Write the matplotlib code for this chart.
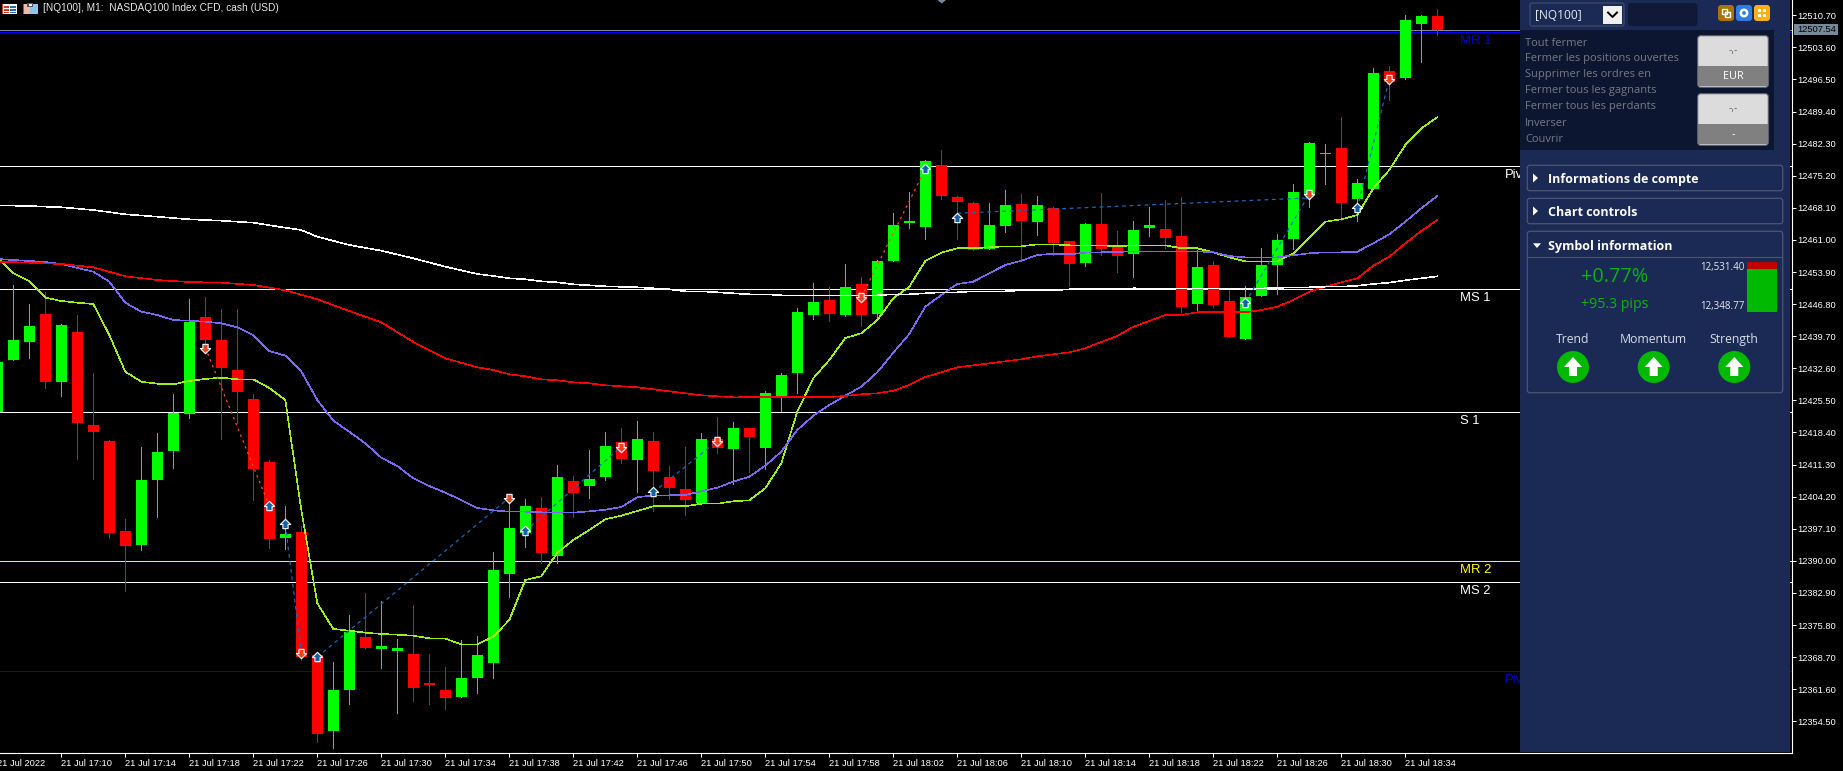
import numpy as np
import matplotlib
matplotlib.use("Agg")
import matplotlib.pyplot as plt
from matplotlib.patches import Rectangle, FancyBboxPatch, Circle, Polygon
from matplotlib.path import Path

plt.rcParams['font.family'] = ['Liberation Sans', 'DejaVu Sans']

# ---------- data ----------
opens = [12422.9,12434.43,12438.48,12444.61,12429.63,12440.69,12420.05,12416.51,12396.60,12393.57,12407.95,12414.37,12422.55,12443.95,12438.86,12432.22,12425.81,12411.87,12395.12,12396.38,12369.17,12352.35,12361.42,12373.15,12370.50,12370.05,12369.39,12362.98,12361.42,12359.88,12364.08,12367.40,12387.16,12396.23,12401.69,12391.14,12407.66,12406.56,12408.55,12416.29,12412.31,12416.51,12408.55,12405.89,12402.80,12416.96,12414.75,12419.39,12414.97,12426.25,12431.56,12444.39,12447.71,12444.39,12451.25,12444.61,12456.34,12464.74,12463.86,12477.58,12470.50,12469.17,12458.99,12464.08,12468.95,12464.97,12468.06,12460.76,12455.89,12464.52,12459.66,12457.88,12463.64,12463.42,12461.87,12446.82,12455.45,12447.49,12439.08,12448.59,12455.45,12461.20,12470.94,12480.01,12481.34,12470.05,12472.26,12498.37,12496.82,12508.77,12510.54]
highs = [12434.0,12451.03,12446.82,12449.48,12442.40,12444.39,12431.56,12416.73,12399.26,12415.12,12418.22,12426.91,12447.93,12448.31,12445.72,12445.72,12426.91,12412.31,12402.13,12397.78,12369.17,12367.62,12378.02,12382.89,12381.12,12372.71,12380.23,12369.39,12366.51,12372.49,12373.37,12391.96,12403.90,12403.68,12404.12,12411.20,12408.77,12414.52,12418.50,12419.39,12420.94,12418.50,12410.98,12415.19,12418.28,12421.82,12420.72,12419.39,12427.57,12431.56,12445.94,12451.47,12450.58,12455.67,12452.80,12456.56,12466.96,12471.60,12478.68,12480.89,12470.72,12469.39,12469.17,12472.04,12471.16,12470.72,12468.28,12460.76,12464.74,12471.38,12462.97,12465.19,12468.28,12469.83,12470.50,12458.77,12456.34,12449.92,12450.81,12459.21,12462.31,12473.37,12482.66,12482.22,12488.20,12474.48,12499.04,12499.48,12510.76,12510.76,12512.09]
lows = [12422.9,12434.43,12434.94,12428.31,12426.54,12412.53,12408.04,12395.12,12383.39,12392.40,12399.77,12410.61,12421.67,12437.53,12416.96,12420.43,12403.46,12392.91,12392.62,12368.06,12349.92,12348.66,12358.33,12370.72,12366.29,12356.34,12358.99,12358.33,12357.22,12359.88,12360.76,12364.08,12381.96,12393.13,12389.59,12389.59,12399.77,12403.97,12407.95,12411.65,12405.23,12401.09,12403.68,12400.14,12402.80,12413.86,12407.00,12409.66,12410.32,12423.15,12427.13,12443.51,12443.06,12444.17,12441.96,12443.95,12456.34,12463.64,12461.20,12470.05,12461.20,12458.77,12458.99,12462.75,12456.56,12462.09,12457.66,12450.81,12455.23,12457.66,12453.90,12452.80,12461.87,12459.21,12445.05,12445.50,12446.16,12439.52,12439.08,12448.59,12449.04,12458.99,12468.28,12473.37,12465.41,12465.19,12472.26,12491.96,12496.60,12500.36,12506.34]
closes = [12434.0,12438.86,12441.96,12429.63,12442.18,12420.43,12418.57,12396.23,12393.35,12407.88,12414.08,12422.71,12442.91,12438.93,12432.73,12427.42,12410.32,12394.83,12396.01,12368.72,12351.76,12361.42,12374.32,12370.72,12371.16,12370.72,12361.87,12362.53,12359.66,12364.08,12369.17,12387.97,12397.27,12402.13,12391.73,12408.55,12405.01,12408.11,12415.41,12412.53,12416.96,12409.88,12406.12,12403.46,12416.96,12414.97,12419.39,12417.40,12427.13,12431.12,12445.05,12447.27,12444.61,12450.58,12444.39,12456.34,12464.30,12465.19,12478.46,12470.72,12469.39,12458.77,12464.30,12468.73,12465.19,12468.73,12460.32,12455.67,12464.52,12458.99,12457.44,12463.19,12464.30,12461.43,12446.16,12455.01,12446.60,12439.52,12448.37,12455.45,12460.98,12471.60,12482.44,12480.23,12469.17,12473.59,12497.93,12495.94,12509.66,12510.54,12507.54]

ma_fast = [12457.29,12453.62,12451.91,12448.22,12447.49,12447.11,12446.82,12439.96,12431.84,12429.63,12429.19,12429.06,12429.79,12430.23,12430.52,12430.16,12430.16,12428.24,12425.58,12401.25,12380.61,12374.92,12374.55,12374.10,12373.82,12373.66,12373.44,12372.86,12372.78,12371.53,12371.53,12373.22,12376.91,12385.76,12386.58,12391.80,12394.61,12396.82,12399.19,12399.99,12401.03,12402.07,12402.07,12402.07,12402.64,12402.64,12403.17,12403.39,12406.05,12411.58,12422.99,12430.38,12434.43,12439.30,12440.34,12443.28,12448.08,12450.65,12456.34,12458.17,12459.15,12459.15,12459.37,12459.59,12459.59,12460.03,12460.03,12459.81,12459.81,12459.81,12459.59,12459.81,12459.81,12459.81,12459.15,12459.15,12458.26,12457.15,12456.27,12456.27,12456.27,12458.04,12461.58,12465.03,12465.56,12466.51,12472.42,12476.47,12482.00,12485.70,12488.13]
ma_mid = [12456.78,12456.56,12456.34,12456.12,12455.67,12454.79,12453.97,12451.76,12447.11,12445.12,12444.39,12443.28,12443.13,12442.91,12442.55,12441.67,12439.96,12436.42,12435.39,12431.90,12425.58,12421.01,12418.57,12416.00,12412.82,12410.98,12408.26,12406.56,12405.08,12403.46,12401.69,12401.18,12400.87,12400.87,12400.74,12400.65,12400.65,12400.96,12401.31,12401.91,12404.06,12404.50,12404.50,12404.57,12405.38,12406.18,12407.51,12408.62,12411.05,12414.15,12418.95,12422.11,12424.48,12426.54,12428.53,12431.71,12436.05,12440.19,12446.23,12448.81,12451.25,12451.76,12453.62,12455.45,12456.40,12457.66,12457.95,12457.82,12458.17,12458.26,12458.33,12458.48,12458.48,12458.48,12458.48,12458.48,12458.26,12457.44,12457.15,12457.15,12457.15,12457.60,12458.04,12458.26,12458.26,12458.39,12460.25,12462.24,12465.03,12468.00,12470.72]

ma_slow_idx = [0,2,4,6,8,10,12,14,16,18,20,22,24,26,28,30,31,32,33,34,35,36,37,38,39,40,41,42,43,44,45,46,52,53,54,55,56,57,58,59,60,61,62,63,64,65,66,67,68,69,70,71,72,73,74,75,78,79,80,81,82,83,84,85,86,87,88,89,90]
ma_slow = [12456.18,12455.96,12455.67,12454.94,12452.95,12452.13,12451.69,12451.54,12451.03,12449.85,12447.86,12445.27,12442.77,12438.42,12434.81,12432.82,12432.22,12431.27,12430.83,12430.16,12429.94,12429.50,12429.28,12428.84,12428.62,12428.40,12427.95,12427.51,12427.07,12426.63,12426.41,12426.18,12426.25,12426.47,12426.85,12427.07,12427.64,12428.90,12430.67,12431.71,12432.82,12433.26,12433.70,12434.15,12434.59,12435.25,12435.70,12436.14,12437.02,12438.42,12439.74,12441.80,12443.06,12444.39,12444.39,12444.99,12444.99,12445.50,12446.23,12447.71,12449.55,12450.65,12451.62,12452.51,12455.30,12457.29,12460.25,12462.97,12465.41]

ma_long_idx = [0,2,4,6,8,10,12,14,16,18,19,20,22,24,26,28,30,31,32,33,34,35,36,37,38,40,41,42,43,44,45,46,47,48,49,55,56,57,58,59,60,61,63,64,66,67,70,71,78,80,81,82,83,84,85,86,87,88,89,90]
ma_long = [12468.66,12468.50,12468.22,12467.62,12466.67,12466.14,12465.56,12465.25,12464.81,12463.70,12463.19,12461.71,12459.88,12458.62,12456.93,12455.08,12453.46,12453.02,12452.51,12452.29,12451.85,12451.62,12451.18,12450.96,12450.74,12450.52,12450.30,12450.08,12449.63,12449.63,12449.41,12449.19,12448.97,12448.97,12448.75,12448.75,12448.97,12448.97,12449.19,12449.41,12449.41,12449.63,12449.63,12449.85,12449.85,12450.08,12450.08,12450.30,12450.21,12450.36,12450.52,12450.52,12450.65,12450.65,12450.87,12451.25,12451.54,12452.07,12452.51,12452.95]

sell_idx = [13,19,32,39,45,54,82,87]
sell_px = [12437.16,12369.68,12403.97,12415.25,12416.51,12448.31,12471.16,12496.60]
buy_idx = [17,18,20,33,41,58,60,78,85]
buy_px = [12402.13,12398.09,12368.72,12396.60,12405.17,12476.69,12465.85,12447.11,12468.00]

trade_red = [((13,12437.16),(17,12402.13)),((54,12448.31),(58,12476.69))]
trade_blue = [((18,12398.09),(19,12369.68)),((20,12368.72),(32,12403.97)),((33,12396.60),(39,12415.25)),
              ((41,12405.17),(45,12416.51)),((60,12466.9),(82,12470.3)),((78,12447.11),(82,12471.16)),((85,12468.00),(87,12496.60))]

level_names = ['MR 1','Pivot','MS 1','S 1','MR 2','MS 2','Pivot']
level_px = [12506.94,12477.3,12450.1,12423.0,12389.9,12385.3,12365.6]
level_colors = ['#0000ff','#ffffff','#ffffff','#ffffff','#ffff00','#ffffff','#0000cd']
label_colors = ['#0000cd','#ffffff','#ffffff','#ffffff','#ffff00','#ffffff','#0000cd']
label_idx = [91.4,94.2,91.4,91.4,91.4,91.4,94.2]
last_price = 12507.54

y_ticks = [12510.70,12503.60,12496.50,12489.40,12482.30,12475.20,12468.10,12461.00,12453.90,12446.80,12439.70,12432.60,12425.50,12418.40,12411.30,12404.20,12397.10,12390.00,12382.90,12375.80,12368.70,12361.60,12354.50]
x_tick_labels = ['21 Jul 2022','21 Jul 17:10','21 Jul 17:14','21 Jul 17:18','21 Jul 17:22','21 Jul 17:26','21 Jul 17:30','21 Jul 17:34','21 Jul 17:38','21 Jul 17:42','21 Jul 17:46','21 Jul 17:50','21 Jul 17:54','21 Jul 17:58','21 Jul 18:02','21 Jul 18:06','21 Jul 18:10','21 Jul 18:14','21 Jul 18:18','21 Jul 18:22','21 Jul 18:26','21 Jul 18:30','21 Jul 18:34']
title_text = '[NQ100], M1:  NASDAQ100 Index CFD, cash (USD)'

panel_actions = ['Tout fermer','Fermer les positions ouvertes','Supprimer les ordres en','Fermer tous les gagnants','Fermer tous les perdants','Inverser','Couvrir']
indicator_names = ['Trend','Momentum','Strength']

# ---------- figure ----------
W, H = 1843, 771
fig = plt.figure(figsize=(W/100, H/100), dpi=100, facecolor='black')
ax = fig.add_axes([0, (H-752.7)/H, 1791.7/W, 752.7/H], facecolor='black')

idx = np.arange(len(opens))
o, h, l, c = map(np.array, (opens, highs, lows, closes))
cols = np.where(c >= o, '#00ff00', '#ff0000')
LW = 0.62
MA_LW = 0.42

# levels
ax.axhline(last_price, color='#778899', lw=LW, antialiased=False, zorder=1)
for name, p, col, lc, xi in zip(level_names, level_px, level_colors, label_colors, label_idx):
    ax.axhline(p, color=col, lw=LW, antialiased=False, zorder=1)
    ax.annotate(name, (xi, p), xytext=(0, -2.2), textcoords='offset points', color=lc,
                fontsize=9.4, va='top', ha='left', zorder=1.5)

# candles
ax.vlines(idx, l, h, colors=cols, lw=LW, antialiased=False, zorder=2)
bot = np.minimum(o, c)
ax.bar(idx, np.abs(c-o), bottom=bot, width=11/16, color=cols, linewidth=0, antialiased=False, zorder=2.1)

# moving averages
ax.plot(idx, ma_fast, color='#9aef1a', lw=MA_LW, antialiased=False, zorder=3)
ax.plot(idx, ma_mid, color='#7b68ee', lw=MA_LW, antialiased=False, zorder=3)
ax.plot(ma_slow_idx, ma_slow, color='#ff0000', lw=MA_LW, antialiased=False, zorder=3)
ax.plot(ma_long_idx, ma_long, color='#ffffff', lw=MA_LW, antialiased=False, zorder=3)

# trades
for (a, b) in trade_red:
    ax.plot([a[0], b[0]], [a[1], b[1]], color='#ff4a1e', lw=0.9, ls=(0, (2, 3)), zorder=4)
for (a, b) in trade_blue:
    ax.plot([a[0], b[0]], [a[1], b[1]], color='#1668b8', lw=0.9, ls=(0, (3, 3)), zorder=4)

up = Path([(0, 1), (1, 0), (0.5, 0), (0.5, -0.8), (-0.5, -0.8), (-0.5, 0), (-1, 0), (0, 1)], closed=True)
down = Path([(0, -1), (1, 0), (0.5, 0), (0.5, 0.8), (-0.5, 0.8), (-0.5, 0), (-1, 0), (0, -1)], closed=True)
ax.scatter(buy_idx, buy_px, marker=up, s=56, facecolor='#0f62ab', edgecolor='white', linewidth=0.8, zorder=5)
ax.scatter(sell_idx, sell_px, marker=down, s=56, facecolor='#e8421e', edgecolor='white', linewidth=0.8, zorder=5)

# axes
for s in ['top', 'left']:
    ax.spines[s].set_visible(False)
for s in ['right', 'bottom']:
    ax.spines[s].set_color('white')
    ax.spines[s].set_linewidth(0.8)
ax.yaxis.tick_right()
ax.set_yticks(y_ticks)
ax.set_yticklabels([f'{v:.2f}' for v in y_ticks], fontsize=6.7, color='white')
ax.tick_params(axis='y', length=3.2, width=0.7, color='white', pad=1)
ax.set_xticks(idx[4::4][:len(x_tick_labels)-1])
ax.set_xticklabels(x_tick_labels[1:], fontsize=6.7, color='white', ha='left')
ax.tick_params(axis='x', length=3.2, width=0.7, color='white', pad=1.2)
ax.set_xlim(2.7/16, (1791.7+2.7)/16)
ax.set_ylim(12514.08-0.22124*752.7, 12514.08)
# the first date sits at bar 0, which is just left of the window
first_tick = ax.get_xticklabels()[0]
ax.annotate(x_tick_labels[0], (0, 0), xycoords=ax.get_xaxis_transform(), xytext=(0, -4.4),
            textcoords='offset points', fontsize=6.7, color='white', ha='left', va='top', annotation_clip=False)

# overlay in pixel space (terminal window furniture)
ov = fig.add_axes([0, 0, 1, 1], facecolor='none', zorder=10)
ov.set_xlim(0, W)
ov.set_ylim(H, 0)
ov.axis('off')

def rbox(x0, y0, x1, y1, fc, ec='none', lw=0.8, r=2, z=1):
    ov.add_patch(FancyBboxPatch((x0+r, y0+r), x1-x0-2*r, y1-y0-2*r, boxstyle=f'round,pad={r},rounding_size={r}',
                                fc=fc, ec=ec, lw=lw, zorder=z))

def rect(x0, y0, x1, y1, fc, z=1):
    ov.add_patch(Rectangle((x0, y0), x1-x0, y1-y0, fc=fc, ec='none', zorder=z))

# header
ov.text(43.3, 8.3, title_text, color='#e6e6e6', fontsize=7.3, va='center', ha='left')
rect(2, 4, 17, 14, '#ffffff'); rect(2, 4, 3, 14, '#d23c28'); rect(4, 6, 9, 7.5, '#d23c28'); rect(4, 9, 9, 10.5, '#d23c28'); rect(4, 12, 9, 13, '#d23c28')
rect(10, 6, 16, 7.5, '#1e6eb4'); rect(10, 9, 16, 10.5, '#1e6eb4'); rect(10, 12, 16, 13, '#1e6eb4')
rect(23, 4, 30, 14, '#f4b8a8'); rect(23, 4, 24, 14, '#d23c28'); rect(30, 4, 38, 14, '#8cc4ec'); rect(27, 3, 33, 7, '#555555'); rect(29, 3.5, 32, 6, '#ffffff')
ov.add_patch(Polygon([(937.5, 0), (946, 0), (941.7, 3.5)], fc='#778899', ec='none'))

# last price tag
rect(1794, 24, 1838, 34.5, '#778899')
ov.text(1797.3, 29.5, f'{last_price:.2f}', color='black', fontsize=6.7, va='center', ha='left')

# side panel
PF = 'Open Sans'
rect(1520, 0, 1790, 751.7, '#1a2a54')
rbox(1530, 3, 1624, 26, 'none', ec='#3f4a66', lw=0.9, z=2)
ov.text(1535, 15.5, '[NQ100]', color='#e8eaf0', fontsize=8.6, family=PF, va='center', ha='left', zorder=3)
rect(1603, 5.5, 1621.5, 23.5, '#f0f0f0', z=3)
ov.plot([1608, 1612.5, 1617], [12.5, 17, 12.5], color='black', lw=1.4, zorder=4)
rbox(1628, 3, 1697.5, 26, '#101a38', r=3, z=2)
for x0, col in zip([1718, 1736, 1754], ['#a87408', '#2f7de1', '#fbb01a']):
    rbox(x0, 5, x0+16, 21, col, r=3, z=2)
ov.add_patch(Rectangle((1722, 9), 5, 5, fc='none', ec='white', lw=1, zorder=3))
ov.add_patch(Rectangle((1725, 12), 5, 5, fc='none', ec='white', lw=1, zorder=3))
ov.add_patch(Circle((1744, 13), 3.2, fc='none', ec='white', lw=1.8, zorder=3))
for dx, dy in [(-2.5, -2.5), (2.5, -2.5), (-2.5, 2.5), (2.5, 2.5)]:
    ov.add_patch(Rectangle((1762+dx-1.8, 13+dy-1.8), 3.6, 3.6, fc='white', ec='none', zorder=3))

rect(1520, 30, 1774, 150, '#0d1630', z=2)
for s, y in zip(panel_actions, [43, 59, 75, 91, 107, 123, 139]):
    ov.text(1525.3, y, s, color='#757a85', fontsize=8, family=PF, va='center', ha='left', zorder=3)

for y0, y1, ys, top_s, bot_s in [(35.7, 87.3, 66, '-,-', 'EUR'), (93.7, 145.3, 124, '-,-', '-')]:
    rbox(1697.7, y0, 1768.3, y1, '#dcdcdc', ec='#5c6270', lw=0.8, r=3, z=3)
    ov.add_patch(Rectangle((1698.3, ys), 69.4, y1-ys-1.5, fc='#808080', ec='none', zorder=3.5))
    ov.text(1733, (y0+ys)/2, top_s, color='#666666', fontsize=7.5, family=PF, va='center', ha='center', zorder=4)
    ov.text(1733, (ys+y1)/2, bot_s, color='white', fontsize=7.8, family=PF, va='center', ha='center', zorder=4)

# collapsible sections
for y0, y1, s, yc in [(165.3, 190.7, 'Informations de compte', 179), (198.3, 223.7, 'Chart controls', 212), (231.3, 392.7, 'Symbol information', 246.5)]:
    rbox(1527.3, y0, 1782.7, y1, 'none', ec='#4b5670', lw=0.9, r=2.5, z=2)
    ov.text(1548.3, yc, s, color='white', fontsize=9, family=PF, fontweight='bold', va='center', ha='left', zorder=3)
ov.add_patch(Polygon([(1533, 173.5), (1533, 182.5), (1538, 178)], fc='white', ec='none', zorder=3))
ov.add_patch(Polygon([(1533, 206.5), (1533, 215.5), (1538, 211)], fc='white', ec='none', zorder=3))
ov.add_patch(Polygon([(1533, 243.3), (1541, 243.3), (1537, 248)], fc='white', ec='none', zorder=3))
ov.plot([1528, 1782], [256.7, 256.7], color='#4b5670', lw=0.8, zorder=3)

ov.text(1615, 276.7, '+0.77%', color='#10b010', fontsize=14.3, family=PF, va='center', ha='center', zorder=3)
ov.text(1615, 305, '+95.3 pips', color='#10b010', fontsize=10.2, family=PF, va='center', ha='center', zorder=3)
ov.text(1744.3, 267.3, '12,531.40', color='#e8eaf0', fontsize=7, family=PF, va='center', ha='right', zorder=3)
ov.text(1744.3, 306, '12,348.77', color='#e8eaf0', fontsize=7, family=PF, va='center', ha='right', zorder=3)
rect(1747, 262, 1777, 268.7, '#c00000', z=3)
rect(1747, 268.7, 1777, 312, '#00b900', z=3)

for name, xc in zip(indicator_names, [1573, 1653.7, 1734.3]):
    ov.text(xc, 339.7, name, color='#d8dce8', fontsize=8.8, family=PF, va='center', ha='center', zorder=3)
    ov.add_patch(Circle((xc, 367), 16, fc='#00b900', ec='none', zorder=3))
    ov.add_patch(Polygon([(xc, 357), (xc+9, 367), (xc+4, 367), (xc+4, 376), (xc-4, 376), (xc-4, 367), (xc-9, 367)],
                         fc='white', ec='none', zorder=4))

fig.savefig('out.png', dpi=100, facecolor='black')
